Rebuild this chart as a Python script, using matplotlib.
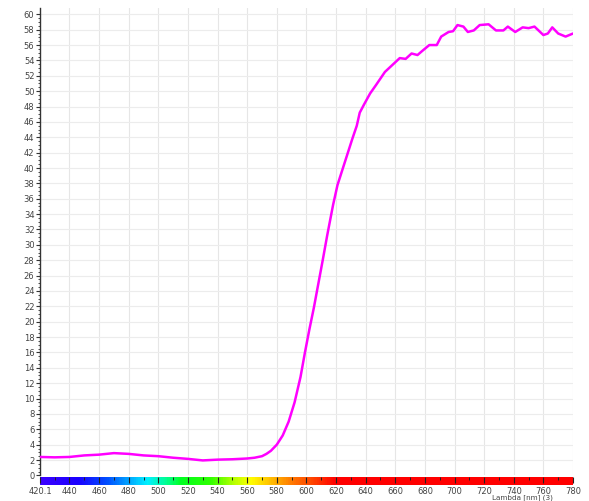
import numpy as np
import matplotlib
matplotlib.use("Agg")
import matplotlib.pyplot as plt
from matplotlib.colors import LinearSegmentedColormap

# ---- data ----
wavelength = [420, 430, 440, 450, 460, 470, 480, 490, 500, 510, 520, 530, 540, 550,
              560, 565, 570, 573, 576, 580, 584, 588, 592, 596, 599, 602, 605, 608,
              611, 614, 618, 621, 625, 628, 631, 634, 636, 639, 643, 647, 653, 658,
              663, 667, 671, 675, 678, 683, 688, 691, 696, 699, 702, 706, 709, 713,
              717, 723, 728, 733, 736, 741, 746, 750, 754, 760, 763, 766, 770, 775, 780]
values = [2.4, 2.35, 2.4, 2.6, 2.7, 2.9, 2.8, 2.6, 2.5, 2.3, 2.15, 1.95, 2.05, 2.1,
          2.2, 2.3, 2.5, 2.8, 3.2, 4.0, 5.2, 7.0, 9.5, 12.8, 16.0, 19.0, 21.8, 24.9,
          28.0, 31.2, 35.2, 37.8, 40.2, 42.0, 43.8, 45.5, 47.2, 48.3, 49.7, 50.8, 52.5, 53.4,
          54.3, 54.2, 54.9, 54.7, 55.2, 56.0, 56.0, 57.1, 57.7, 57.8, 58.6, 58.4, 57.7, 57.9,
          58.6, 58.7, 57.9, 57.9, 58.4, 57.7, 58.3, 58.2, 58.4, 57.3, 57.5, 58.3, 57.5, 57.1, 57.5]
x_ticks = [420.1, 440, 460, 480, 500, 520, 540, 560, 580, 600, 620, 640, 660, 680,
           700, 720, 740, 760, 780]
x_labels = ["420.1", "440", "460", "480", "500", "520", "540", "560", "580", "600",
            "620", "640", "660", "680", "700", "720", "740", "760", "780"]
y_ticks = list(range(0, 61, 2))
x_label = "Lambda [nm] (3)"

# spectrum colour stops (wavelength, colour)
spec_stops = [(420.1, "#3a00ff"), (445, "#1a00ff"), (465, "#0050ff"), (480, "#00a8ff"),
              (492, "#00f0ff"), (505, "#00ff90"), (515, "#00ff20"), (535, "#30ff00"),
              (550, "#b0ff00"), (562, "#ffff00"), (572, "#ffd000"), (582, "#ffa000"),
              (592, "#ff7000"), (605, "#ff4000"), (620, "#ff0000"), (780, "#ff0000")]

W, H = 589, 501
fig = plt.figure(figsize=(W / 100, H / 100), dpi=100)
fig.patch.set_facecolor("white")

xmin, xmax = 420.1, 780
left = 40 / W
right = 573 / W
top_px, bot_px = 8, 475.4
ax = fig.add_axes([left, 1 - bot_px / H, right - left, (bot_px - top_px) / H])
ax.set_xlim(xmin, xmax)
ax.set_ylim(0, 60.82)

ax.plot(wavelength, values, color="#ff00ff", lw=1.8, solid_capstyle="round", zorder=3)

# grid
for gx in x_ticks[1:]:
    ax.axvline(gx, color="#e6e6e6", lw=0.8, zorder=1)
for gy in y_ticks[1:]:
    ax.axhline(gy, color="#ececec", lw=0.8, zorder=1)

for s in ["top", "right", "bottom"]:
    ax.spines[s].set_visible(False)
ax.spines["left"].set_color("#333333")
ax.spines["left"].set_linewidth(1.0)

ax.set_xticks([])
ax.set_yticks(y_ticks)
ax.set_yticklabels([str(v) for v in y_ticks], fontsize=6, color="#444444")
ax.set_yticks(np.arange(0, 60.5, 0.5), minor=True)
ax.tick_params(axis="y", which="major", direction="out", length=3, width=0.8,
               color="#333333", pad=1)
ax.tick_params(axis="y", which="minor", direction="out", length=1.5, width=0.6,
               color="#333333")

# colour bar
cb_top, cb_bot = 477, 485
cax = fig.add_axes([left, 1 - cb_bot / H, right - left, (cb_bot - cb_top) / H])
pos = [(w - xmin) / (xmax - xmin) for w, c in spec_stops]
cmap = LinearSegmentedColormap.from_list("spec", list(zip(pos, [c for w, c in spec_stops])))
grad = np.linspace(0, 1, 600)[None, :]
cax.imshow(grad, aspect="auto", cmap=cmap, extent=[xmin, xmax, 0, 1])
cax.set_xlim(xmin, xmax)
cax.set_ylim(0, 1)
cax.set_yticks([])
for s in cax.spines.values():
    s.set_visible(False)
cax.set_xticks(x_ticks)
cax.set_xticklabels(x_labels, fontsize=6, color="#444444")
cax.set_xticks(np.arange(430, 780, 20), minor=True)
cax.tick_params(axis="x", which="major", bottom=False, top=True, direction="in",
                length=4, width=0.8, color="#222222", labelbottom=True, pad=1.5)
cax.tick_params(axis="x", which="minor", bottom=False, top=True, direction="in",
                length=2, width=0.7, color="#222222")

fig.text(522 / W, 1 - 500.8 / H, x_label, fontsize=5.2, color="#444444",
         ha="center", va="bottom")

fig.savefig("out.png", dpi=100, facecolor="white")
